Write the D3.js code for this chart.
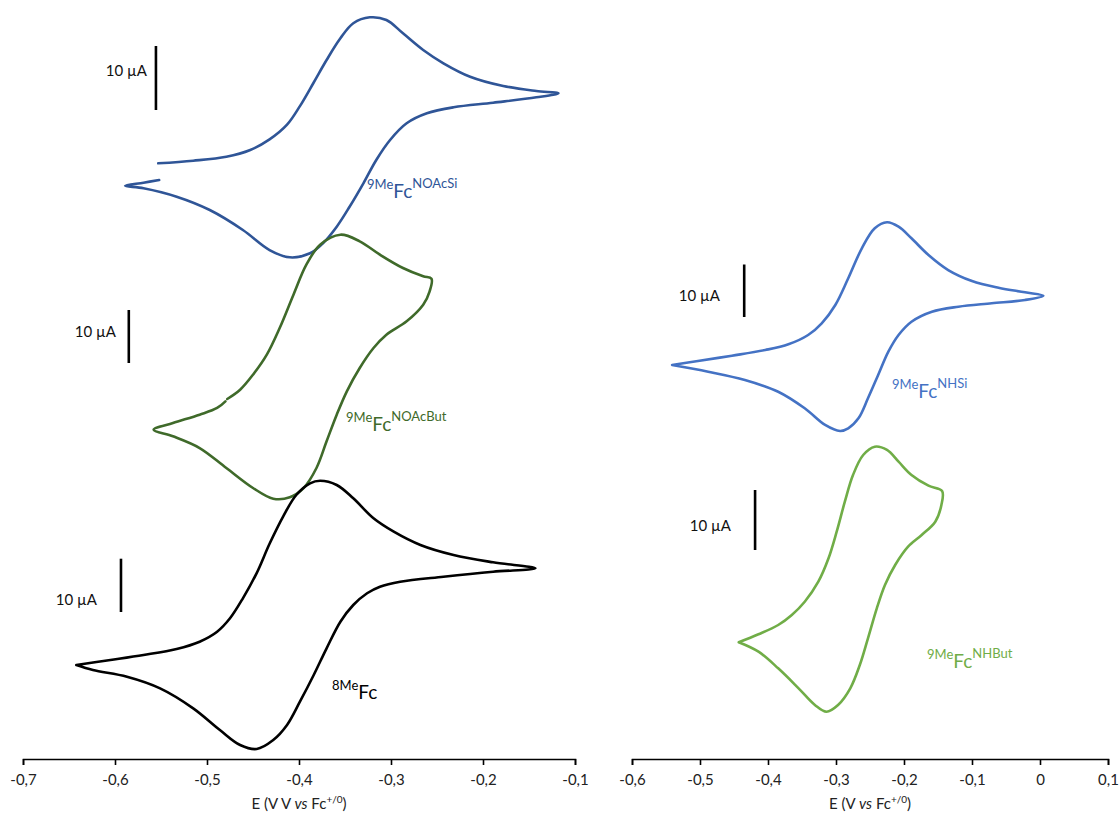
<!DOCTYPE html>
<html>
<head>
<meta charset="utf-8">
<script src="https://cdn.jsdelivr.net/npm/d3@7"></script>
<style>
  html, body { margin: 0; padding: 0; background: #fff; }
  svg { display: block; font-family: Lato, "Open Sans", "Liberation Sans", sans-serif; }
</style>
</head>
<body>
<svg id="chart" width="1119" height="814"></svg>
<script>
// ---------- Data (E in V vs Fc+/0, I in µA relative to each trace's offset) ----------
const ticksLeft  = [-0.7, -0.6, -0.5, -0.4, -0.3, -0.2, -0.1];
const ticksRight = [-0.6, -0.5, -0.4, -0.3, -0.2, -0.1, 0, 0.1];

// 9MeFc^NOAcSi (left, top)
const E_NOAcSi = [-0.553,-0.515,-0.479,-0.453,-0.432,-0.413,-0.399,-0.384,-0.370,-0.355,-0.341,-0.323,-0.305,-0.287,-0.265,-0.243,-0.214,-0.178,-0.142,-0.118,
                  -0.142,-0.189,-0.232,-0.261,-0.283,-0.301,-0.316,-0.330,-0.345,-0.359,-0.374,-0.388,-0.410,-0.432,-0.461,-0.497,-0.533,-0.569,-0.589,-0.569,-0.552];
const I_NOAcSi = [-8.33,-7.92,-7.30,-6.25,-4.60,-2.30,0.60,4.30,7.81,11.20,13.55,14.48,14.06,11.98,9.38,7.30,5.20,3.75,2.97,2.61,
                  1.98,1.14,0.42,-0.52,-2.08,-4.69,-7.81,-11.45,-15.11,-18.23,-20.83,-22.39,-23.02,-21.88,-18.75,-15.63,-13.55,-12.23,-11.83,-11.36,-10.94];

// 9MeFc^NOAcBut (left, middle)
const E_NOAcBut = [-0.478,-0.464,-0.450,-0.435,-0.421,-0.406,-0.392,-0.377,-0.355,-0.334,-0.312,-0.287,-0.265,-0.256,
                   -0.258,-0.265,-0.283,-0.305,-0.319,-0.334,-0.348,-0.359,-0.370,-0.381,-0.395,-0.410,-0.428,-0.450,-0.479,-0.508,-0.537,-0.558,-0.537,-0.508,-0.489,-0.480];
const I_NOAcBut = [-6.79,-5.04,-2.21,1.57,6.60,12.89,18.55,22.32,24.21,22.96,20.43,17.92,16.36,15.91,
                   13.53,11.00,7.87,5.34,2.83,-0.94,-5.34,-9.75,-14.77,-19.81,-23.58,-25.34,-25.60,-23.58,-19.81,-16.04,-13.83,-12.58,-11.32,-9.75,-8.49,-7.23];

// 8MeFc (left, bottom)
const E_8Me = [-0.642,-0.605,-0.569,-0.533,-0.508,-0.489,-0.475,-0.461,-0.446,-0.432,-0.417,-0.403,-0.388,-0.377,-0.359,-0.341,-0.319,-0.297,-0.268,-0.232,-0.189,-0.143,
               -0.189,-0.243,-0.290,-0.312,-0.326,-0.341,-0.355,-0.370,-0.384,-0.399,-0.413,-0.428,-0.446,-0.464,-0.486,-0.515,-0.551,-0.587,-0.624,-0.642];
const I_8Me = [-9.94,-9.01,-8.07,-6.94,-5.57,-3.70,-1.18,2.57,7.30,12.80,18.00,21.95,24.15,24.63,23.83,21.33,17.58,15.07,12.57,10.69,9.32,8.20,
               7.56,6.62,5.68,4.75,3.51,1.31,-1.82,-6.81,-11.82,-16.83,-21.20,-24.02,-25.70,-24.95,-22.14,-18.07,-14.32,-12.14,-10.88,-9.94];

// 9MeFc^NHSi (right, top)
const E_NHSi = [-0.541,-0.503,-0.453,-0.404,-0.370,-0.341,-0.321,-0.301,-0.282,-0.262,-0.243,-0.225,-0.208,-0.189,-0.164,-0.135,-0.100,-0.061,-0.022,0.005,
                -0.022,-0.071,-0.120,-0.159,-0.189,-0.208,-0.223,-0.238,-0.253,-0.267,-0.282,-0.294,-0.316,-0.346,-0.385,-0.434,-0.488,-0.541];
const I_NHSi = [-9.14,-8.38,-7.37,-6.29,-5.20,-3.43,-1.20,2.29,7.37,13.09,16.90,18.04,17.20,14.99,11.81,8.95,6.86,5.58,4.70,4.06,
                3.24,2.61,1.96,1.01,-0.90,-3.43,-6.61,-11.05,-15.49,-19.30,-21.20,-21.71,-20.57,-17.39,-14.23,-12.00,-10.42,-9.14];

// 9MeFc^NHBut (right, bottom)
const E_NHBut = [-0.443,-0.414,-0.385,-0.365,-0.346,-0.326,-0.311,-0.299,-0.287,-0.275,-0.260,-0.243,-0.225,-0.208,-0.189,-0.164,-0.144,
                 -0.145,-0.154,-0.174,-0.194,-0.213,-0.228,-0.240,-0.253,-0.265,-0.279,-0.297,-0.314,-0.331,-0.355,-0.385,-0.414,-0.443];
const I_NHBut = [-15.38,-14.05,-12.50,-10.83,-8.62,-5.28,-1.38,3.05,8.05,12.50,15.83,17.22,16.67,14.72,12.50,10.72,9.83,
                 7.50,4.72,2.50,0.55,-2.50,-5.83,-9.72,-14.72,-19.17,-23.05,-25.83,-26.95,-25.83,-23.05,-19.72,-16.95,-15.38];

const scaleBarValue = 10; // µA

// ---------- Layout ----------
const svg = d3.select("#chart");
const axisY = 759;
const xLeft  = d3.scaleLinear().domain([-0.7, -0.1]).range([23, 575]);
const xRight = d3.scaleLinear().domain([-0.6, 0.1]).range([632, 1108]);

const traces = [
  {E: E_NOAcSi,  I: I_NOAcSi,  x: xLeft,  y0: 110, k: 6.4,  color: "#2F5597", barE: -0.5555, label: {x: 367, y: 198, pre: "9Me", post: "NOAcSi"}, barText: {x: 147, y: 76}},
  {E: E_NOAcBut, I: I_NOAcBut, x: xLeft,  y0: 363, k: 5.3,  color: "#3F6A2A", barE: -0.585,  label: {x: 346, y: 431, pre: "9Me", post: "NOAcBut"}, barText: {x: 116, y: 337}},
  {E: E_8Me,     I: I_8Me,     x: xLeft,  y0: 612, k: 5.33, color: "#000000", barE: -0.5935, label: {x: 332, y: 699, pre: "8Me", post: ""}, barText: {x: 97, y: 605}},
  {E: E_NHSi,    I: I_NHSi,    x: xRight, y0: 317, k: 5.25, color: "#4472C4", barE: -0.435,  label: {x: 892, y: 398, pre: "9Me", post: "NHSi"}, barText: {x: 720, y: 301}},
  {E: E_NHBut,   I: I_NHBut,   x: xRight, y0: 550, k: 6.0,  color: "#70AD47", barE: -0.419,  label: {x: 927, y: 668, pre: "9Me", post: "NHBut"}, barText: {x: 731, y: 531}}
];

traces.forEach(t => {
  const y = d3.scaleLinear().domain([0, scaleBarValue]).range([t.y0, t.y0 - scaleBarValue * t.k]);
  const pts = t.E.map((e, i) => [e, t.I[i]]);
  const line = d3.line().x(d => t.x(d[0])).y(d => y(d[1])).curve(d3.curveCatmullRom.alpha(0.5));
  svg.append("path").datum(pts).attr("d", line)
    .attr("fill", "none").attr("stroke", t.color).attr("stroke-width", 2.6)
    .attr("stroke-linejoin", "round").attr("stroke-linecap", "round");

  // scale bar
  const bx = t.x(t.barE);
  svg.append("line").attr("x1", bx).attr("x2", bx).attr("y1", y(0)).attr("y2", y(scaleBarValue))
    .attr("stroke", "#000").attr("stroke-width", 2.6);
  svg.append("text").attr("x", t.barText.x).attr("y", t.barText.y).attr("text-anchor", "end")
    .attr("font-size", 15).attr("fill", "#111").text(scaleBarValue + " µA");

  // compound label
  const tx = svg.append("text").attr("x", t.label.x).attr("y", t.label.y).attr("fill", t.color);
  tx.append("tspan").attr("font-size", 13).attr("dy", -9).text(t.label.pre);
  tx.append("tspan").attr("font-size", 19).attr("dy", 9).text("Fc");
  if (t.label.post) tx.append("tspan").attr("font-size", 13).attr("dy", -10).text(t.label.post);
});

// ---------- Axes ----------
const fmt = d => d === 0 ? "0" : d.toFixed(1).replace(".", ",").replace("\u2212", "-");
function drawAxis(scale, ticks) {
  const g = svg.append("g").attr("transform", `translate(0,${axisY})`);
  const ax = d3.axisBottom(scale).tickValues(ticks).tickFormat(fmt).tickSizeInner(6).tickSizeOuter(6).tickPadding(9);
  g.call(ax);
  g.select(".domain").attr("stroke", "#000").attr("stroke-width", 1.6);
  g.selectAll(".tick line").attr("stroke", "#000").attr("stroke-width", 1.6);
  g.selectAll(".tick text").attr("font-size", 15).attr("fill", "#222").attr("font-family", "Lato, sans-serif");
  return g;
}
drawAxis(xLeft, ticksLeft);
drawAxis(xRight, ticksRight);

function axisTitle(cx, prefix) {
  const t = svg.append("text").attr("x", cx).attr("y", 809).attr("text-anchor", "middle")
    .attr("font-size", 15).attr("fill", "#222");
  t.append("tspan").text(prefix);
  t.append("tspan").attr("font-style", "italic").text("vs");
  t.append("tspan").text(" Fc");
  t.append("tspan").attr("font-size", 10).attr("dy", -6).text("+/0");
  t.append("tspan").attr("dy", 6).text(")");
}
axisTitle(299, "E (V V ");
axisTitle(870, "E (V ");
</script>
</body>
</html>
